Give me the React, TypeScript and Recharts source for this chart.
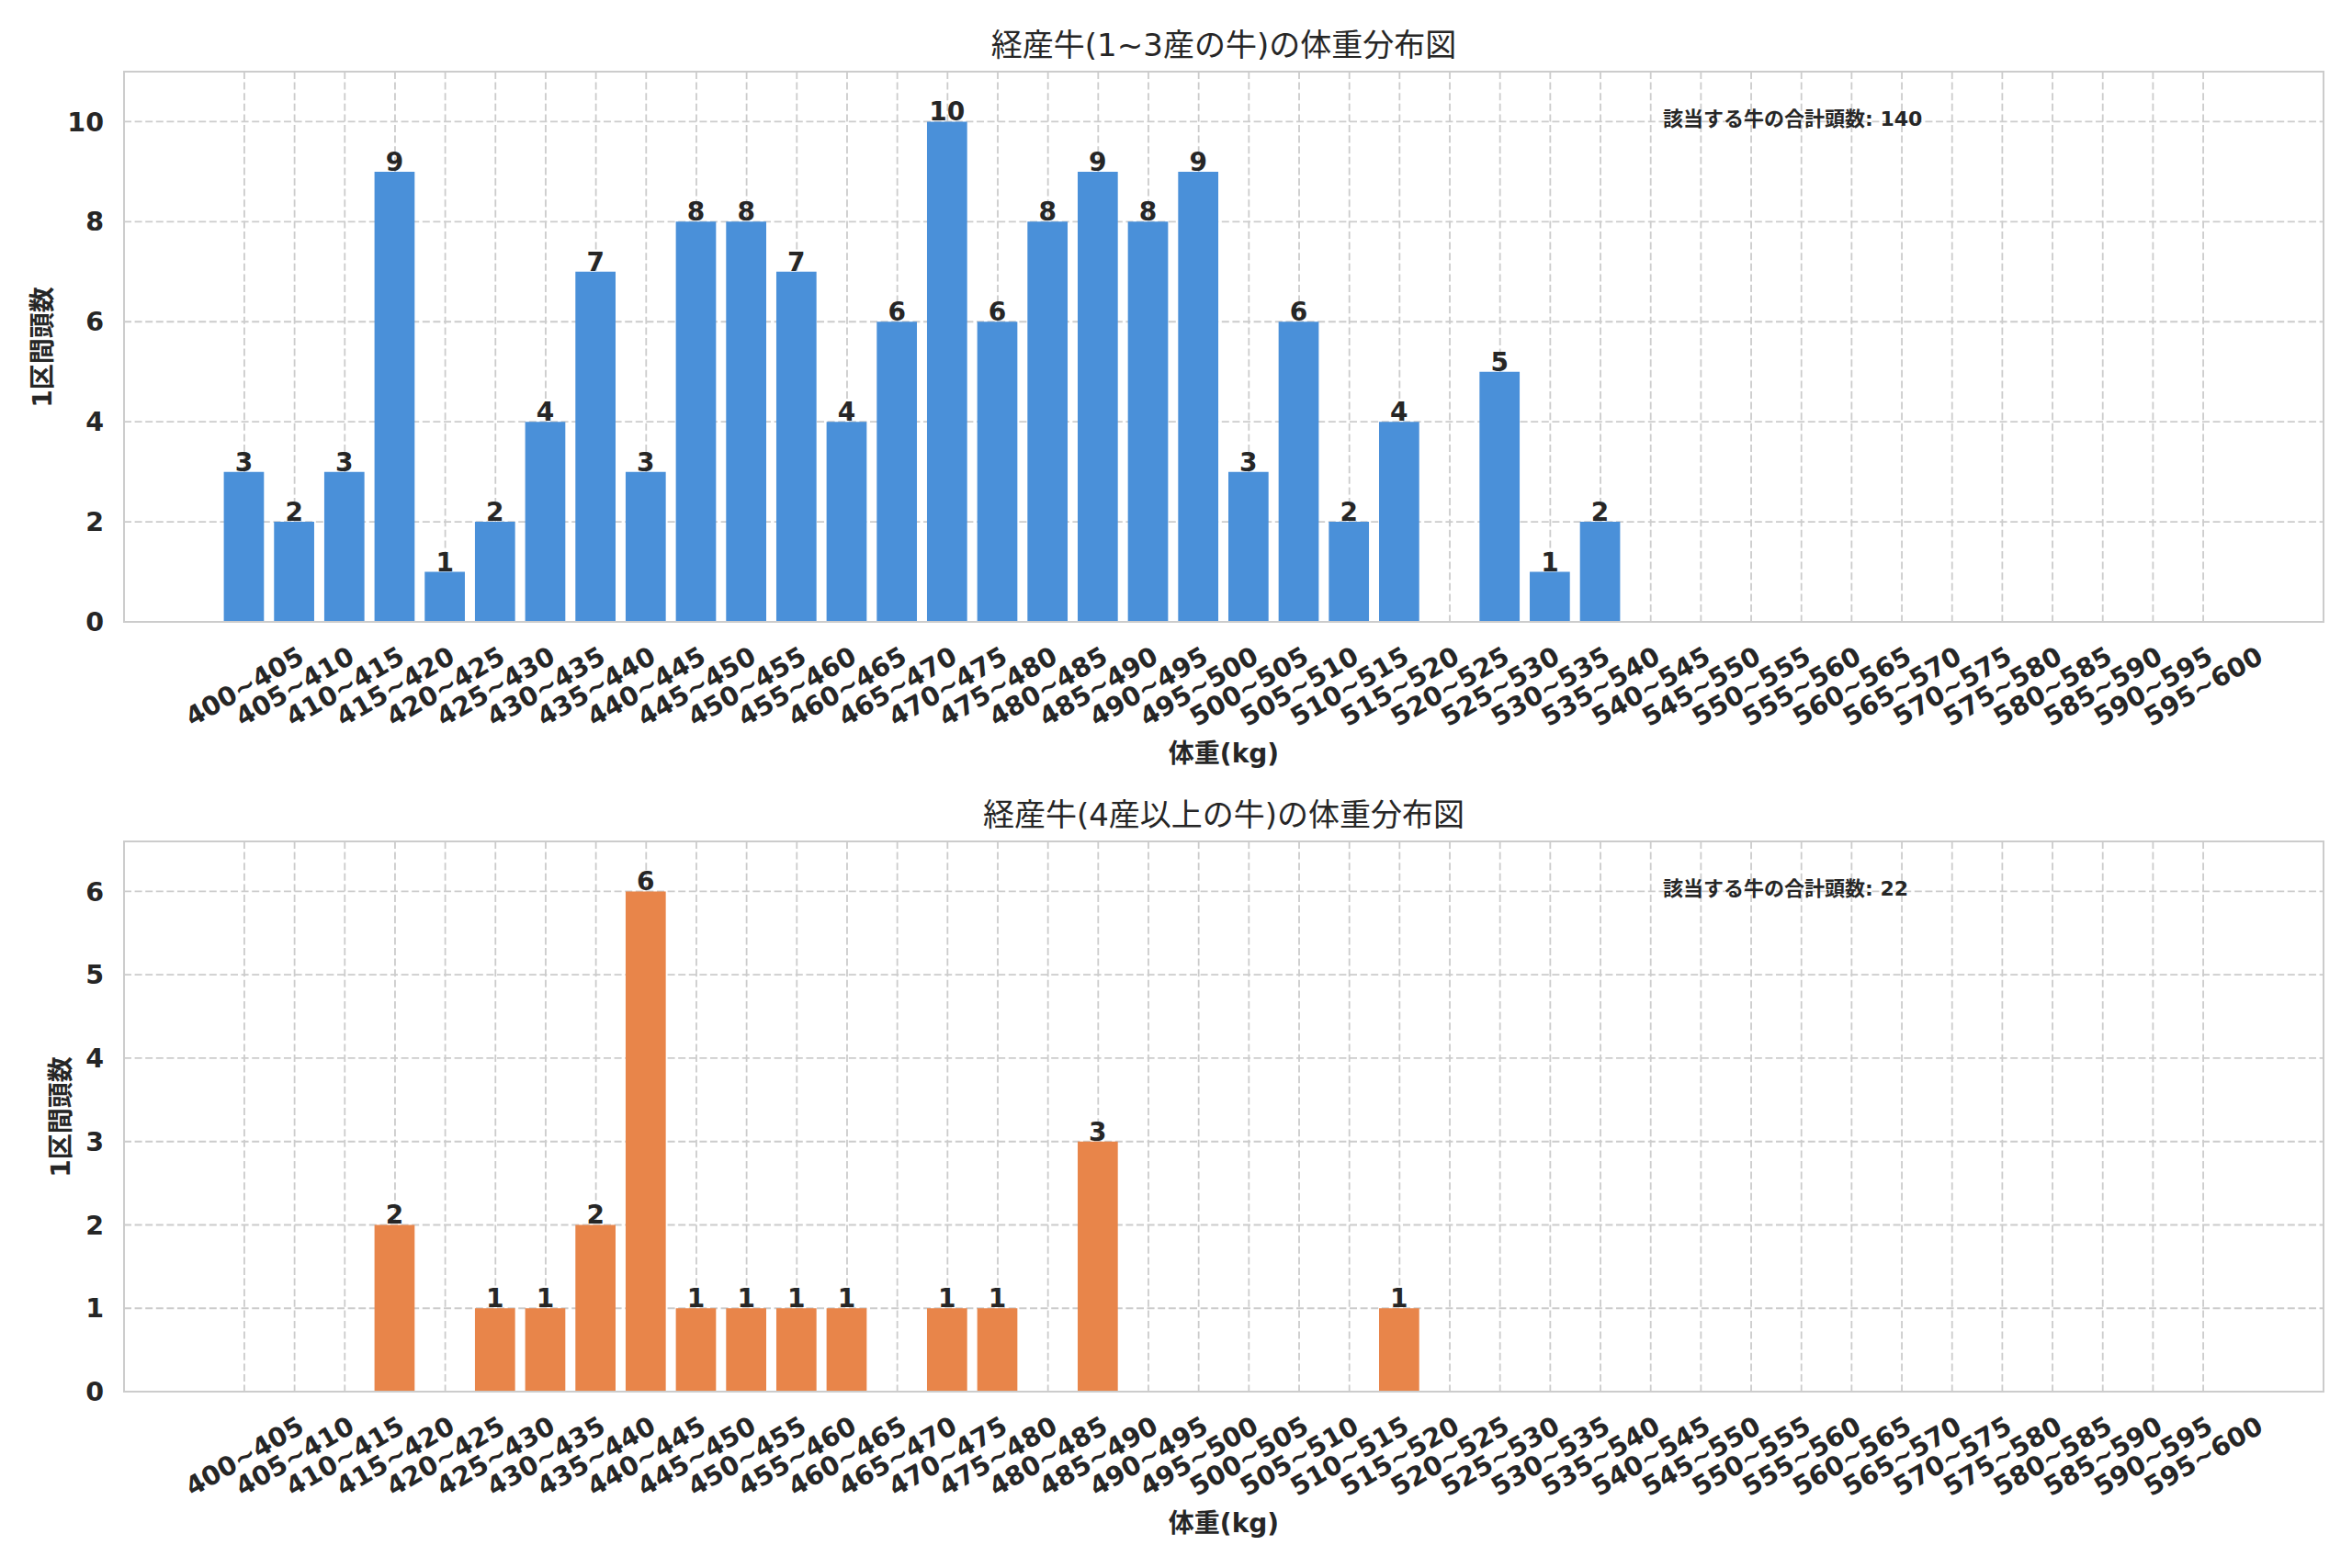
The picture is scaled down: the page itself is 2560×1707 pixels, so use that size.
import React from 'react';
import { BarChart, Bar, XAxis, YAxis, CartesianGrid, LabelList } from 'recharts';

// ---- data ----
const categories = [
  '400~405', '405~410', '410~415', '415~420', '420~425', '425~430', '430~435', '435~440',
  '440~445', '445~450', '450~455', '455~460', '460~465', '465~470', '470~475', '475~480',
  '480~485', '485~490', '490~495', '495~500', '500~505', '505~510', '510~515', '515~520',
  '520~525', '525~530', '530~535', '535~540', '540~545', '545~550', '550~555', '555~560',
  '560~565', '565~570', '570~575', '575~580', '580~585', '585~590', '590~595', '595~600',
];

const topCounts = [
  3, 2, 3, 9, 1, 2, 4, 7, 3, 8,
  8, 7, 4, 6, 10, 6, 8, 9, 8, 9,
  3, 6, 2, 4, 0, 5, 1, 2, 0, 0,
  0, 0, 0, 0, 0, 0, 0, 0, 0, 0,
];

const bottomCounts = [
  0, 0, 0, 2, 0, 1, 1, 2, 6, 1,
  1, 1, 1, 0, 1, 1, 0, 3, 0, 0,
  0, 0, 0, 1, 0, 0, 0, 0, 0, 0,
  0, 0, 0, 0, 0, 0, 0, 0, 0, 0,
];

const topYTicks = [0, 2, 4, 6, 8, 10];
const bottomYTicks = [0, 1, 2, 3, 4, 5, 6];

const topTitle = '経産牛(1~3産の牛)の体重分布図';
const bottomTitle = '経産牛(4産以上の牛)の体重分布図';
const yLabel = '1区間頭数';
const xLabel = '体重(kg)';
const totalLabel = '該当する牛の合計頭数';

// ---- style ----
const FONT = "'DejaVu Sans', 'Noto Sans CJK JP', sans-serif";
const TEXT = '#262626';
const GRID = '#cccccc';
const W = 2560;
const H = 838;

const XTick = (props: any) => {
  const { x, y, payload } = props;
  return (
    <g transform={`translate(${x},${y + 70})`}>
      <text
        textAnchor="middle"
        dy="0.36em"
        transform="rotate(-30)"
        fontSize={28.5}
        fontWeight="bold"
        fill={TEXT}
        fontFamily={FONT}
      >
        {payload.value}
      </text>
    </g>
  );
};

const renderValue = (props: any) => {
  const { x, y, width, value } = props;
  if (!value) return null;
  return (
    <text
      x={Number(x) + Number(width) / 2}
      y={Number(y) - 1}
      textAnchor="middle"
      fontSize={28}
      fontWeight="bold"
      fill={TEXT}
      fontFamily={FONT}
    >
      {value}
    </text>
  );
};

type PanelProps = {
  top: number;
  title: string;
  counts: number[];
  color: string;
  yTicks: number[];
  yMax: number;
  yLabelX: number;
};

const Panel = ({ top, title, counts, color, yTicks, yMax, yLabelX }: PanelProps) => {
  const data = categories.map((c, i) => ({ range: c, count: counts[i] }));
  const total = counts.reduce((a, b) => a + b, 0);
  return (
    <div style={{ position: 'absolute', left: 0, top, width: W, height: H }}>
      <BarChart width={W} height={H} data={data} margin={{ top: 78, right: 31, left: 75, bottom: 0 }}>
        <CartesianGrid stroke={GRID} strokeDasharray="8 3.6" strokeWidth={1.8} />
        <XAxis
          dataKey="range"
          interval={0}
          padding={{ left: 103.6, right: 103.6 }}
          height={161}
          tickSize={0}
          tickMargin={0}
          axisLine={false}
          tickLine={false}
          tick={(p: any) => <XTick {...p} />}
        />
        <YAxis
          type="number"
          domain={[0, yMax]}
          ticks={yTicks}
          width={60}
          axisLine={false}
          tickLine={false}
          tickSize={6}
          tickMargin={16}
          allowDataOverflow
          tick={{ fontSize: 28.5, fontWeight: 'bold', fill: TEXT, fontFamily: FONT }}
        />
        <Bar dataKey="count" fill={color} barSize={43.7} isAnimationActive={false}>
          <LabelList dataKey="count" content={renderValue} />
        </Bar>
      </BarChart>
      {/* axes frame */}
      <div
        style={{
          position: 'absolute',
          left: 134,
          top: 77,
          width: 2396,
          height: 601,
          border: `2px solid ${GRID}`,
          boxSizing: 'border-box',
          pointerEvents: 'none',
        }}
      />
      {/* title */}
      <div
        style={{
          position: 'absolute',
          left: 135,
          width: 2394,
          top: 24,
          height: 50,
          lineHeight: '50px',
          textAlign: 'center',
          fontSize: 34,
          fontFamily: FONT,
          color: TEXT,
          whiteSpace: 'nowrap',
        }}
      >
        {title}
      </div>
      {/* y label */}
      <div
        style={{
          position: 'absolute',
          left: yLabelX,
          top: 377.5,
          transform: 'translate(-50%, -50%) rotate(-90deg)',
          fontSize: 28,
          fontWeight: 'bold',
          fontFamily: FONT,
          color: TEXT,
          whiteSpace: 'nowrap',
          lineHeight: '34px',
        }}
      >
        {yLabel}
      </div>
      {/* x label */}
      <div
        style={{
          position: 'absolute',
          left: 1332,
          top: 821,
          transform: 'translate(-50%, -50%)',
          fontSize: 28,
          fontWeight: 'bold',
          fontFamily: FONT,
          color: TEXT,
          whiteSpace: 'nowrap',
          lineHeight: '34px',
        }}
      >
        {xLabel}
      </div>
      {/* total annotation */}
      <div
        style={{
          position: 'absolute',
          left: 1810,
          top: 130,
          transform: 'translateY(-50%)',
          fontSize: 22,
          fontWeight: 'bold',
          fontFamily: FONT,
          color: TEXT,
          whiteSpace: 'nowrap',
          lineHeight: '28px',
        }}
      >
        {`${totalLabel}: ${total}`}
      </div>
    </div>
  );
};

export default function App() {
  return (
    <div
      style={{
        position: 'absolute',
        left: 0,
        top: 0,
        width: W,
        height: 1707,
        background: '#ffffff',
        fontFamily: FONT,
      }}
    >
      <Panel
        top={0}
        title={topTitle}
        counts={topCounts}
        color="#4a90d9"
        yTicks={topYTicks}
        yMax={11}
        yLabelX={47}
      />
      <Panel
        top={838}
        title={bottomTitle}
        counts={bottomCounts}
        color="#e8854a"
        yTicks={bottomYTicks}
        yMax={6.6}
        yLabelX={67}
      />
    </div>
  );
}
